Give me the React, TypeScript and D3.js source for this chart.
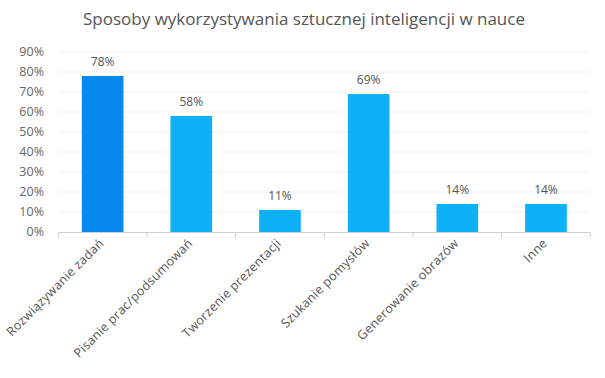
import React from "react";
import * as d3 from "d3";

const categories = [
  "Rozwiązywanie zadań",
  "Pisanie prac/podsumowań",
  "Tworzenie prezentacji",
  "Szukanie pomysłów",
  "Generowanie obrazów",
  "Inne",
];
const values = [78, 58, 11, 69, 14, 14];
const yTicks = [0, 10, 20, 30, 40, 50, 60, 70, 80, 90];
const title = "Sposoby wykorzystywania sztucznej inteligencji w nauce";

const W = 605;
const H = 378;
const FONT = "'Open Sans', 'Noto Sans', sans-serif";

export default function App() {
  const x = d3.scaleBand<string>().domain(categories).range([58.3, 590.3]).paddingInner(0.53).paddingOuter(0.265);
  const y = d3.scaleLinear().domain([0, 90]).range([232, 52]);
  const bands = d3.scaleBand<string>().domain(categories).range([58.3, 590.3]);

  return (
    <svg width={W} height={H} style={{ position: "absolute", left: 0, top: 0, background: "#fff" }}>
      <text x={304} y={25} textAnchor="middle" fontFamily={FONT} fontSize={17} fill="#555">
        {title}
      </text>
      {yTicks.map((t) => (
        <g key={t}>
          {t > 0 && <line x1={58} x2={590} y1={y(t)} y2={y(t)} stroke="#efefef" strokeWidth={1} />}
          <text x={44} y={y(t)} dy="0.35em" textAnchor="end" fontFamily={FONT} fontSize={12.5} fill="#666">
            {t}%
          </text>
        </g>
      ))}
      {categories.map((c, i) => (
        <g key={c}>
          <rect
            x={x(c)!}
            y={y(values[i])}
            width={x.bandwidth()}
            height={y(0) - y(values[i])}
            fill={i === 0 ? "#0889EE" : "#0EB0F8"}
          />
          <text
            x={x(c)! + x.bandwidth() / 2}
            y={y(values[i]) - 10}
            textAnchor="middle"
            fontFamily={FONT}
            fontSize={12}
            fill="#555"
          >
            {values[i]}%
          </text>
          <text
            transform={`translate(${bands(c)! + bands.bandwidth() / 2 + 2},${244}) rotate(-45)`}
            textAnchor="end"
            fontFamily={FONT}
            fontSize={12.5}
            letterSpacing={0.3}
            fill="#555"
          >
            {c}
          </text>
        </g>
      ))}
      <line x1={58.3} x2={590.3} y1={232.5} y2={232.5} stroke="#d0d0d0" />
      {[...categories.map((c) => bands(c)!), 590.3].map((t, i) => (
        <line key={i} x1={t} x2={t} y1={232.5} y2={237.5} stroke="#d0d0d0" />
      ))}
    </svg>
  );
}
